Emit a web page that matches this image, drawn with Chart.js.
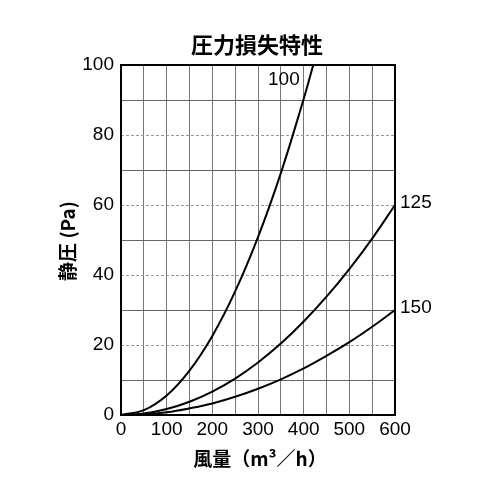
<!DOCTYPE html>
<html>
<head>
<meta charset="utf-8">
<script src="https://cdn.jsdelivr.net/npm/chart.js@4.4.1/dist/chart.umd.min.js"></script>
<style>
  html, body { margin: 0; padding: 0; background: #fff; }
  #wrap { width: 500px; height: 500px; }
</style>
</head>
<body>
<div id="wrap"><canvas id="lossChart" width="500" height="500"></canvas></div>
<script>
// 風量 (m3/h) と 静圧 (Pa)
const flow100 = [0, 50, 100, 150, 200, 250, 300, 350, 400, 421];
const pa100   = [0, 1.4, 5.6, 12.7, 22.6, 35.3, 50.8, 69.1, 90.3, 100];
const flow125 = [0, 50, 100, 150, 200, 250, 300, 350, 400, 450, 500, 550, 600];
const pa125   = [0, 0.4, 1.7, 3.8, 6.7, 10.4, 15, 20.4, 26.7, 33.8, 41.7, 50.4, 60];
const flow150 = [0, 50, 100, 150, 200, 250, 300, 350, 400, 450, 500, 550, 600];
const pa150   = [0, 0.2, 0.8, 1.9, 3.3, 5.2, 7.5, 10.2, 13.3, 16.9, 20.8, 25.2, 30];
const curveNames = ["100", "125", "150"];
const xTicks = [0, 100, 200, 300, 400, 500, 600];
const yTicks = [0, 20, 40, 60, 80, 100];

const DIGIT_FONT = "'Liberation Sans', Arial, sans-serif";
const JP_FONT = "'Noto Sans CJK JP', 'Noto Sans', sans-serif";

function pts(xs, ys){
  return xs.map((x, i) => ({ x: x, y: ys[i] }));
}

// dashed grid lines at 20, 40, 60, 80 and the text around the plot
const decorations = {
  id: "decorations",
  beforeDatasetsDraw(chart){
    const { ctx, chartArea: a, scales: { y } } = chart;
    ctx.save();
    ctx.strokeStyle = "#999";
    ctx.lineWidth = 1;
    ctx.setLineDash([3, 2]);
    [20, 40, 60, 80].forEach(v => {
      const py = Math.round(y.getPixelForValue(v)) + 0.5;
      ctx.beginPath();
      ctx.moveTo(a.left, py);
      ctx.lineTo(a.right, py);
      ctx.stroke();
    });
    ctx.restore();
  },
  afterDraw(chart){
    const { ctx, chartArea: a, scales: { y } } = chart;
    ctx.save();
    ctx.fillStyle = "#000";

    ctx.font = "bold 22px " + JP_FONT;
    ctx.textAlign = "center";
    ctx.textBaseline = "middle";
    ctx.fillText("圧力損失特性", 257, 45);

    ctx.font = "bold 19px " + JP_FONT;
    ctx.fillText("風量（m³／h）", 260, 459);

    ctx.save();
    ctx.translate(68, 241);
    ctx.rotate(-Math.PI / 2);
    ctx.fillText("静圧 (Pa)", 0, 0);
    ctx.restore();

    ctx.font = "19px " + DIGIT_FONT;
    ctx.textAlign = "left";
    ctx.fillText(curveNames[0], 268, 80);
    ctx.fillText(curveNames[1], a.right + 5, y.getPixelForValue(60) - 2);
    ctx.fillText(curveNames[2], a.right + 5, y.getPixelForValue(30) - 2);
    ctx.restore();
  }
};

function renderChart(){
  const el = document.getElementById("lossChart");
  const line = (d) => ({
    data: d,
    borderColor: "#000",
    borderWidth: 2,
    pointRadius: 0,
    fill: false,
    tension: 0.4
  });

  new Chart(el, {
    type: "line",
    data: {
      datasets: [
        line(pts(flow100, pa100)),
        line(pts(flow125, pa125)),
        line(pts(flow150, pa150))
      ]
    },
    options: {
      responsive: false,
      animation: false,
      layout: { padding: { left: 0, right: 105, top: 65, bottom: 0 } },
      plugins: { legend: { display: false }, tooltip: { enabled: false }, title: { display: false } },
      scales: {
        x: {
          type: "linear",
          min: 0, max: 600,
          afterFit: s => { s.height = 85; },
          afterBuildTicks: s => {
            s.ticks = [];
            for (let v = 0; v <= 600; v += 50) s.ticks.push({ value: v });
          },
          ticks: {
            color: "#000",
            padding: 3,
            maxRotation: 0,
            autoSkip: false,
            font: { family: DIGIT_FONT, size: 19 },
            callback: v => xTicks.includes(v) ? String(v) : ""
          },
          grid: {
            color: c => (c.tick.value === 0 || c.tick.value === 600) ? "rgba(0,0,0,0)" : "#777",
            lineWidth: 1,
            drawTicks: false
          },
          border: { display: true, color: "#000", width: 2 }
        },
        y: {
          min: 0, max: 100,
          afterFit: s => { s.width = 121; },
          afterBuildTicks: s => {
            s.ticks = [];
            for (let v = 0; v <= 100; v += 10) s.ticks.push({ value: v });
          },
          ticks: {
            color: "#000",
            padding: 7,
            autoSkip: false,
            font: { family: DIGIT_FONT, size: 19 },
            callback: v => yTicks.includes(v) ? String(v) : ""
          },
          grid: {
            color: c => (c.tick.value % 20 === 0) ? "rgba(0,0,0,0)" : "#666",
            lineWidth: 1,
            drawTicks: false
          },
          border: { display: true, color: "#000", width: 2 }
        }
      }
    },
    plugins: [decorations, {
      id: "frame",
      afterDatasetsDraw(chart){
        const { ctx, chartArea: a } = chart;
        ctx.save();
        ctx.strokeStyle = "#000";
        ctx.lineWidth = 2;
        ctx.strokeRect(a.left, a.top, a.right - a.left, a.bottom - a.top);
        ctx.restore();
      }
    }]
  });
}

document.addEventListener("DOMContentLoaded", renderChart);
</script>
</body>
</html>
